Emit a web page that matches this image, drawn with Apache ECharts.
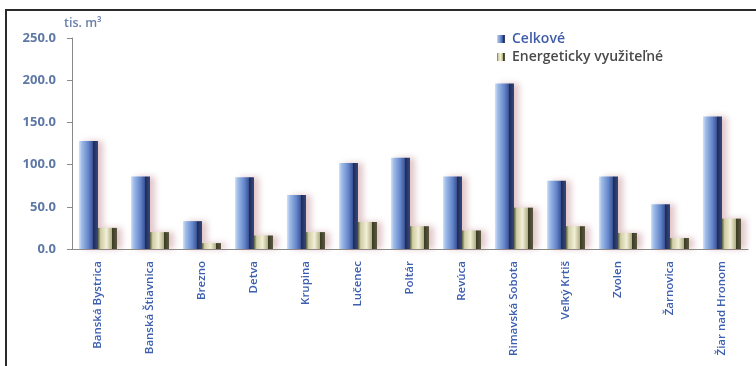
<!DOCTYPE html>
<html><head><meta charset="utf-8">
<script src="https://cdn.jsdelivr.net/npm/echarts@6/dist/echarts.min.js"></script>
<style>html,body{margin:0;padding:0;background:#fff}#c{width:756px;height:366px}</style>
</head><body><div id="c"></div>
<script>
const categories = ['Banská Bystrica','Banská Štiavnica','Brezno','Detva','Krupina','Lučenec','Poltár','Revúca','Rimavská Sobota','Veľký Krtiš','Zvolen','Žarnovica','Žiar nad Hronom'];
const celkove = [128, 86, 33, 85, 64, 102, 108, 86, 196, 81, 86, 53, 157];
const energeticky = [25, 20, 7, 16, 20, 32, 27, 22, 49, 27, 19, 13, 36];
const yTicks = [0, 50, 100, 150, 200, 250];
const seriesNames = ['Celkové', 'Energeticky využiteľné'];

const blueGrad = new echarts.graphic.LinearGradient(0,0,1,0,[
  {offset:0,color:'#d2e2f7'},{offset:0.15,color:'#9cbbe9'},{offset:0.5,color:'#6485c8'},
  {offset:0.72,color:'#3c5598'},{offset:0.74,color:'#1f2b55'},{offset:1,color:'#34477e'}]);
const oliveGrad = new echarts.graphic.LinearGradient(0,0,1,0,[
  {offset:0,color:'#5e5d3c'},{offset:0.14,color:'#cfcda4'},{offset:0.45,color:'#f1f0d6'},
  {offset:0.72,color:'#b3b088'},{offset:0.76,color:'#3d3c24'},{offset:1,color:'#5a5940'}]);

const chart = echarts.init(document.getElementById('c'));
chart.setOption({
  animation:false,
  backgroundColor:'#fff',
  graphic:[{type:'rect',shape:{x:6,y:10,width:760,height:400},style:{fill:'none',stroke:'#2a2a2a',lineWidth:2},silent:true}],
  grid:{left:72,right:8,top:38,bottom:117},
  legend:{orient:'vertical',left:492,top:27,itemWidth:8,itemHeight:8,itemGap:4,icon:'rect',
    data:[{name:seriesNames[0],textStyle:{color:'#3f5ca8'}},{name:seriesNames[1],textStyle:{color:'#4a4a4a'}}],
    textStyle:{fontFamily:'Open Sans',fontSize:14,fontWeight:600,padding:[0,0,0,2]}},
  xAxis:{type:'category',data:categories,
    axisLine:{lineStyle:{color:'#8a8a8a'}},axisTick:{length:5,lineStyle:{color:'#8a8a8a'}},
    axisLabel:{rotate:90,interval:0,color:'#3d5fb0',fontFamily:'Open Sans',fontSize:11.5,fontWeight:600,margin:12}},
  yAxis:{type:'value',min:0,max:250,interval:50,name:'tis. m³',nameGap:8,
    nameTextStyle:{color:'#6a80aa',fontFamily:'Open Sans',fontSize:12.5,fontWeight:600,align:'left',padding:[0,0,0,-8]},
    axisLine:{show:true,lineStyle:{color:'#8a8a8a'}},axisTick:{show:true,length:5,lineStyle:{color:'#8a8a8a'}},
    splitLine:{show:false},
    axisLabel:{color:'#5e78a6',fontFamily:'Open Sans',fontSize:13,fontWeight:700,margin:16,
      formatter:v=>yTicks.includes(v)?v.toFixed(1):''}},
  series:[
    {name:seriesNames[0],type:'bar',data:celkove,barWidth:19,barGap:'0%',
      itemStyle:{color:blueGrad,shadowColor:'rgba(170,90,100,0.35)',shadowBlur:6,shadowOffsetX:5}},
    {name:seriesNames[1],type:'bar',data:energeticky,barWidth:19,barGap:'0%',
      itemStyle:{color:oliveGrad,shadowColor:'rgba(170,90,100,0.35)',shadowBlur:6,shadowOffsetX:5}}
  ]
});
</script></body></html>
